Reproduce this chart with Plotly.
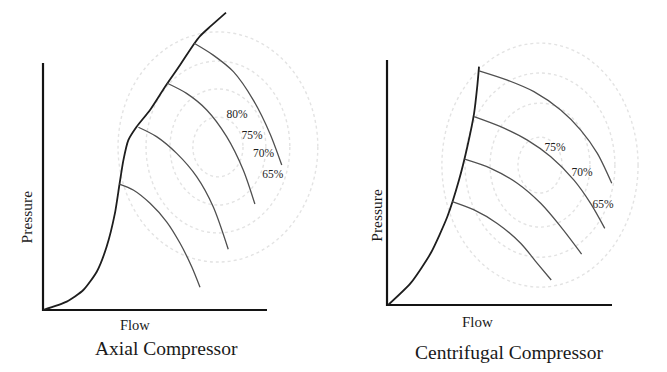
import plotly.graph_objects as go

W, H = 667, 372

# ---------------- data (schematic values) ----------------
# Axial compressor
axial_surge_x = [0.0, 1.06, 1.80, 2.40, 2.84, 3.21, 3.41, 3.59, 3.81, 4.18, 4.78, 5.45, 6.12, 6.71, 7.01, 7.46, 8.17]
axial_surge_y = [0.0, 0.34, 0.81, 1.55, 2.56, 3.91, 5.06, 6.07, 6.88, 7.42, 8.10, 9.04, 9.92, 10.73, 11.09, 11.47, 12.04]
axial_speed_x = [
    [3.41, 4.03, 4.78, 5.52, 6.12, 6.64, 7.01],
    [4.26, 5.07, 5.97, 6.86, 7.60, 8.27],
    [5.55, 6.41, 7.31, 8.20, 8.94, 9.46],
    [6.75, 7.60, 8.50, 9.39, 10.13, 10.66],
]
axial_speed_y = [
    [5.10, 4.86, 4.32, 3.57, 2.70, 1.75, 0.92],
    [7.40, 7.02, 6.34, 5.40, 4.18, 2.46],
    [9.18, 8.77, 8.10, 7.02, 5.67, 4.29],
    [10.80, 10.32, 9.65, 8.50, 7.15, 5.87],
]
axial_eff_labels = ["80%", "75%", "70%", "65%"]
axial_eff_x = [8.66, 9.33, 9.85, 10.26]
axial_eff_y = [7.89, 7.02, 6.30, 5.47]
axial_ring_cx, axial_ring_cy = 7.81, 6.60
axial_ring_rx = [1.12, 2.14, 3.21, 4.46]
axial_ring_ry = [1.21, 2.35, 3.48, 4.66]

# Centrifugal compressor
cent_surge_x = [0.05, 1.05, 1.94, 2.68, 3.20, 3.57, 3.87, 4.01, 4.09]
cent_surge_y = [0.0, 0.89, 2.11, 3.60, 5.10, 6.46, 7.82, 8.91, 9.73]
cent_speed_x = [
    [4.09, 5.35, 6.53, 7.72, 8.61, 9.35, 9.99],
    [3.87, 5.05, 6.24, 7.28, 8.31, 9.05, 9.68],
    [3.45, 4.61, 5.79, 6.83, 7.72, 8.65],
    [2.90, 3.87, 4.90, 5.94, 6.68, 7.30],
]
cent_speed_y = [
    [9.56, 9.18, 8.71, 7.96, 7.14, 6.19, 4.97],
    [7.69, 7.28, 6.73, 6.05, 5.10, 4.15, 3.13],
    [5.95, 5.58, 4.97, 4.15, 3.20, 2.08],
    [4.22, 3.88, 3.33, 2.52, 1.70, 1.02],
]
cent_eff_labels = ["75%", "70%", "65%"]
cent_eff_x = [7.47, 8.67, 9.60]
cent_eff_y = [6.41, 5.39, 4.08]
cent_ring_cx, cent_ring_cy = 6.80, 5.71
cent_ring_rx = [0.98, 2.22, 3.33, 4.36]
cent_ring_ry = [1.14, 2.53, 3.76, 4.98]

axis_len = 10.0
titles = ["Axial Compressor", "Centrifugal Compressor"]

# ---------------- styles ----------------
SERIF = "Liberation Serif, Times New Roman, serif"
AXIS_COL = "#141414"
SURGE_COL = "#1e1e1e"
SPEED_COL = "#505050"
RING_COL = "#e3e3e3"

fig = go.Figure()

panels = [
    dict(xa="x", ya="y", sx=axial_surge_x, sy=axial_surge_y, spx=axial_speed_x, spy=axial_speed_y,
         lab=axial_eff_labels, lx=axial_eff_x, ly=axial_eff_y,
         cx=axial_ring_cx, cy=axial_ring_cy, rx=axial_ring_rx, ry=axial_ring_ry),
    dict(xa="x2", ya="y2", sx=cent_surge_x, sy=cent_surge_y, spx=cent_speed_x, spy=cent_speed_y,
         lab=cent_eff_labels, lx=cent_eff_x, ly=cent_eff_y,
         cx=cent_ring_cx, cy=cent_ring_cy, rx=cent_ring_rx, ry=cent_ring_ry),
]

shapes = []
for p in panels:
    # efficiency rings (dotted)
    for rx, ry in zip(p["rx"], p["ry"]):
        shapes.append(dict(type="circle", xref=p["xa"], yref=p["ya"],
                           x0=p["cx"] - rx, x1=p["cx"] + rx, y0=p["cy"] - ry, y1=p["cy"] + ry,
                           line=dict(color=RING_COL, width=1.4, dash="dot"), layer="below"))
    # axes
    fig.add_trace(go.Scatter(x=[0, 0, axis_len], y=[axis_len, 0, 0], mode="lines",
                             line=dict(color=AXIS_COL, width=2.2), xaxis=p["xa"], yaxis=p["ya"],
                             hoverinfo="skip", showlegend=False))
    # surge line
    fig.add_trace(go.Scatter(x=p["sx"], y=p["sy"], mode="lines",
                             line=dict(color=SURGE_COL, width=1.8, shape="spline", smoothing=0.6),
                             xaxis=p["xa"], yaxis=p["ya"], hoverinfo="skip", showlegend=False))
    # speed lines
    for xs, ys in zip(p["spx"], p["spy"]):
        fig.add_trace(go.Scatter(x=xs, y=ys, mode="lines",
                                 line=dict(color=SPEED_COL, width=1.3, shape="spline", smoothing=0.8),
                                 xaxis=p["xa"], yaxis=p["ya"], hoverinfo="skip", showlegend=False))
    # efficiency labels
    fig.add_trace(go.Scatter(x=p["lx"], y=p["ly"], mode="text", text=p["lab"],
                             textfont=dict(family=SERIF, size=11.5, color="#1e1e1e"),
                             xaxis=p["xa"], yaxis=p["ya"], hoverinfo="skip", showlegend=False))

def px(xp, yp):
    return xp / W, 1 - yp / H

annotations = []
for (tx, ty), text, size, ang in [
    (px(26.7, 216.7), "Pressure", 15.5, -90),
    (px(135, 325), "Flow", 14.5, 0),
    (px(166.7, 348.3), titles[0], 19.5, 0),
    (px(375.7, 215), "Pressure", 15.5, -90),
    (px(477.3, 321.7), "Flow", 15, 0),
    (px(509, 352.7), titles[1], 19.5, 0),
]:
    annotations.append(dict(x=tx, y=ty, xref="paper", yref="paper", text=text, showarrow=False,
                            textangle=ang, xanchor="center", yanchor="middle",
                            font=dict(family=SERIF, size=size, color="#1a1a1a")))

hidden = dict(showgrid=False, zeroline=False, showticklabels=False, ticks="", showline=False, fixedrange=True)

fig.update_layout(
    width=W, height=H,
    margin=dict(l=0, r=0, t=0, b=0),
    paper_bgcolor="white", plot_bgcolor="white",
    showlegend=False,
    shapes=shapes,
    annotations=annotations,
    xaxis=dict(domain=[0.0309, 0.5010], range=[-1, 13], anchor="y", **hidden),
    yaxis=dict(domain=[0.0671, 0.9966], range=[-1.5, 12.5], anchor="x", **hidden),
    xaxis2=dict(domain=[0.5465, 0.9681], range=[-1, 11.5], anchor="y2", **hidden),
    yaxis2=dict(domain=[0.0813, 0.9968], range=[-1.5, 12.4], anchor="x2", **hidden),
)

fig.write_html("out.html")
